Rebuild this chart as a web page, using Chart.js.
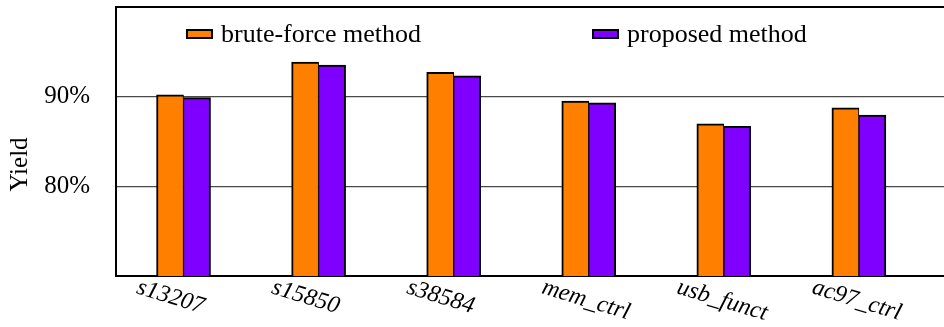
<!DOCTYPE html>
<html>
<head>
<meta charset="utf-8">
<script src="https://cdn.jsdelivr.net/npm/chart.js@4.4.1/dist/chart.umd.min.js"></script>
<style>
  html, body { margin: 0; padding: 0; background: #fff; overflow: hidden; }
  #wrap { width: 944px; height: 327px; }
</style>
</head>
<body>
<div id="wrap"><canvas id="c" width="944" height="327"></canvas></div>
<script>
const categories = ['s13207', 's15850', 's38584', 'mem_ctrl', 'usb_funct', 'ac97_ctrl'];
const bruteForce = [90.2, 93.87, 92.72, 89.5, 86.96, 88.75];
const proposed   = [89.9, 93.53, 92.32, 89.3, 86.7, 87.96];
const yTickValues = [80, 90];
const seriesNames = ['brute-force method', 'proposed method'];
const seriesColors = ['#FF8000', '#8000FF'];

const FONT = '"Liberation Serif", "Times New Roman", serif';
Chart.defaults.font.family = FONT;
Chart.defaults.font.size = 25;
Chart.defaults.color = '#000';

const decor = {
  id: 'decor',
  afterDraw(chart) {
    const ctx = chart.ctx;
    const area = chart.chartArea;
    const xs = chart.scales.x;
    ctx.save();
    // top frame line
    ctx.strokeStyle = '#000';
    ctx.lineWidth = 2;
    ctx.beginPath();
    ctx.moveTo(area.left - 1, area.top);
    ctx.lineTo(area.right + 2, area.top);
    ctx.stroke();

    // y axis title
    ctx.fillStyle = '#000';
    ctx.font = '25px ' + FONT;
    ctx.save();
    ctx.translate(26.5, 164.5);
    ctx.rotate(-Math.PI / 2);
    ctx.textAlign = 'center';
    ctx.textBaseline = 'alphabetic';
    ctx.fillText('Yield', 0, 0);
    ctx.restore();

    // rotated category labels
    ctx.font = 'italic 24px ' + FONT;
    categories.forEach((lab, i) => {
      const px = xs.getPixelForValue(i);
      ctx.save();
      ctx.translate(px - 48, area.bottom + 17);
      ctx.rotate(17 * Math.PI / 180);
      ctx.textAlign = 'left';
      ctx.textBaseline = 'alphabetic';
      ctx.fillText(lab, 0, 0);
      ctx.restore();
    });

    // legend inside plot
    ctx.font = '26px ' + FONT;
    chart.data.datasets.forEach((ds, i) => {
      const bx = 186 + i * 406;
      const by = 29;
      ctx.fillStyle = ds.backgroundColor;
      ctx.fillRect(bx, by, 27, 10);
      ctx.strokeStyle = '#000';
      ctx.lineWidth = 2;
      ctx.strokeRect(bx + 1, by + 1, 25, 8);
      ctx.fillStyle = '#000';
      ctx.textAlign = 'left';
      ctx.textBaseline = 'alphabetic';
      ctx.fillText(ds.label, bx + 35, 42);
    });
    ctx.restore();
  }
};

new Chart(document.getElementById('c'), {
  type: 'bar',
  data: {
    datasets: [
      {
        label: seriesNames[0],
        data: bruteForce.map((v, i) => ({ x: i, y: v })),
        backgroundColor: seriesColors[0],
        borderColor: '#000',
        borderWidth: { top: 2, left: 2, right: 1, bottom: 0 },
        borderSkipped: false,
        barThickness: 27
      },
      {
        label: seriesNames[1],
        data: proposed.map((v, i) => ({ x: i, y: v })),
        backgroundColor: seriesColors[1],
        borderColor: '#000',
        borderWidth: { top: 2, left: 1, right: 2, bottom: 0 },
        borderSkipped: false,
        barThickness: 27
      }
    ]
  },
  options: {
    responsive: false,
    animation: false,
    devicePixelRatio: 1,
    layout: { padding: { left: 0, right: 0, top: 7, bottom: 51 } },
    plugins: { legend: { display: false }, tooltip: { enabled: false } },
    scales: {
      x: {
        type: 'linear',
        min: -0.5,
        max: 5.63,
        offset: false,
        z: 1,
        ticks: { display: false },
        grid: { display: true, drawOnChartArea: false, drawTicks: false },
        border: { display: true, color: '#000', width: 2 },
        afterFit: s => { s.height = 0; s.paddingLeft = 0; s.paddingRight = 0; }
      },
      y: {
        min: 70,
        max: 100,
        z: 1,
        afterBuildTicks: s => { s.ticks = yTickValues.map(v => ({ value: v })); },
        ticks: {
          padding: 26,
          font: { size: 25, family: FONT },
          color: '#000',
          callback: v => v + '%'
        },
        grid: { color: '#4a4a4a', lineWidth: 1.2, drawTicks: false },
        border: { display: true, color: '#000', width: 2 },
        afterFit: s => { s.width = 116; s.paddingTop = 0; s.paddingBottom = 0; }
      }
    }
  },
  plugins: [decor]
});
</script>
</body>
</html>
